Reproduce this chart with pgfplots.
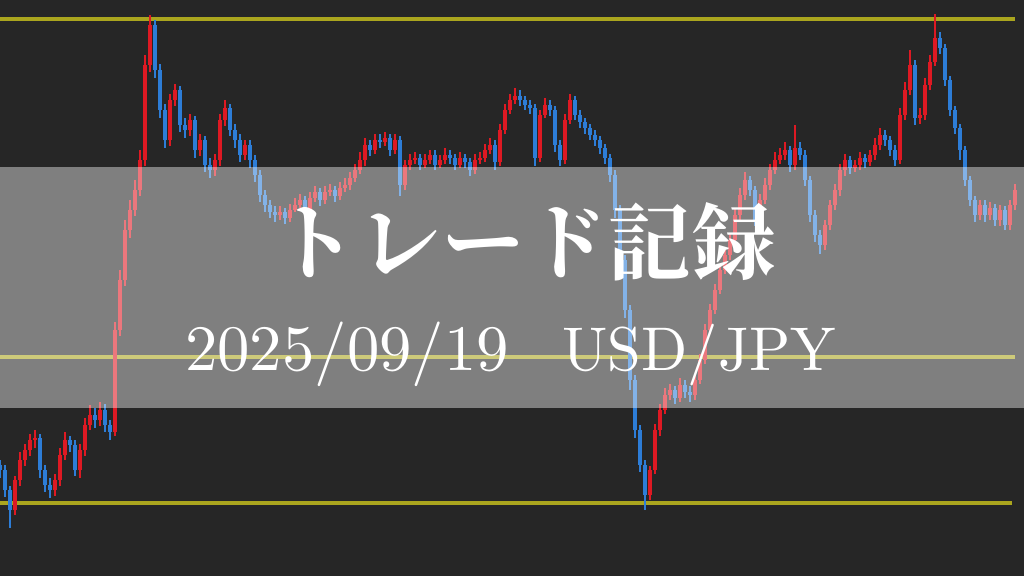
\documentclass[border=0pt]{standalone}
\usepackage{pgfplots}
\pgfplotsset{compat=1.18}
\usepackage{pgfplotstable}
\usepackage{fontspec}
\newfontfamily\cjk{Noto Serif CJK JP}
\newfontfamily\lmten{lmroman10-regular}[Extension=.otf]
\definecolor{bgc}{RGB}{38,38,38}
\definecolor{cred}{RGB}{222,25,35}
\definecolor{cblue}{RGB}{45,125,215}
\definecolor{lvl}{RGB}{170,165,30}

% candles in picture pixels (y grows downward): x open close high low
\pgfplotstableread{
x o c h l
0 465 470 460 478
5 470 490 465 497
10 490 510 486 528
15 510 480 476 515
20 480 460 452 486
25 460 450 444 466
30 450 440 434 456
35 440 438 430 448
40 438 470 434 478
45 470 485 465 492
50 485 490 478 498
55 490 480 474 496
60 480 455 448 486
65 455 440 432 460
70 440 445 436 452
75 445 470 440 476
80 470 450 444 478
85 450 425 418 456
90 425 415 405 430
95 415 420 408 428
100 420 410 402 426
105 410 425 404 432
110 425 432 420 440
115 432 330 322 436
120 330 280 270 336
125 280 230 220 286
130 230 210 200 238
135 210 190 180 216
140 190 160 150 196
145 160 65 55 166
150 65 25 15 72
155 25 70 20 78
160 70 110 64 118
165 110 140 104 148
170 140 100 94 146
175 100 90 84 106
180 90 125 86 132
185 125 130 118 138
190 130 120 114 136
195 120 150 116 158
200 150 140 134 156
205 140 165 136 172
210 165 170 158 178
215 170 160 154 176
220 160 120 114 166
225 120 108 100 126
230 108 130 104 136
235 130 140 124 148
240 140 155 134 162
245 155 145 140 160
250 145 160 140 168
255 160 175 155 182
260 175 195 170 202
265 195 205 190 212
270 205 212 200 218
275 212 215 206 222
280 215 212 206 220
285 212 218 208 224
290 218 210 204 222
295 210 205 198 212
300 205 200 194 208
305 200 210 196 216
310 210 198 192 214
315 198 192 186 202
320 192 200 188 206
325 200 192 186 204
330 192 190 184 196
335 190 196 186 202
340 196 188 182 200
345 188 185 178 192
350 185 178 172 190
355 178 170 164 182
360 170 160 152 174
365 160 145 138 166
370 145 150 140 156
375 150 140 134 154
380 140 142 134 148
385 142 138 132 146
390 138 150 134 156
395 150 140 134 154
400 140 185 136 196
405 185 165 160 190
410 165 160 154 170
415 160 158 152 164
420 158 165 154 170
425 165 160 154 168
430 160 155 150 164
435 155 165 150 170
440 165 160 155 168
445 160 155 148 164
450 155 158 150 164
455 158 165 154 170
460 165 158 152 168
465 158 162 154 168
470 162 170 158 176
475 170 160 154 174
480 160 158 152 164
485 158 150 144 162
490 150 145 138 154
495 145 162 140 170
500 162 130 124 166
505 130 110 104 134
510 110 100 94 114
515 100 96 88 104
520 96 100 90 106
525 100 105 96 110
530 105 108 100 114
535 108 158 104 166
540 158 115 110 162
545 115 105 98 118
550 105 110 100 116
555 110 145 106 152
560 145 160 140 166
565 160 120 114 164
570 120 100 94 124
575 100 115 96 120
580 115 122 110 128
585 122 128 118 134
590 128 135 124 140
595 135 140 130 146
600 140 148 136 154
605 148 158 144 164
610 158 175 154 182
615 175 210 170 218
620 210 260 205 268
625 260 310 255 318
630 310 380 305 390
635 380 430 375 438
640 430 465 425 472
645 465 495 460 510
650 495 470 466 500
655 470 430 424 474
660 430 410 404 436
665 410 395 388 414
670 395 390 384 400
675 390 398 386 404
680 398 385 378 402
685 385 392 380 398
690 392 395 386 402
695 395 380 374 400
700 380 360 354 384
705 360 330 324 364
710 330 310 304 334
715 310 290 284 314
720 290 270 264 294
725 270 255 248 274
730 255 240 234 260
735 240 215 208 244
740 215 195 188 220
745 195 180 172 200
750 180 190 176 196
755 190 220 186 226
760 220 200 194 224
765 200 185 178 204
770 185 170 164 190
775 170 160 152 174
780 160 155 148 164
785 155 150 142 160
790 150 165 146 172
795 165 148 125 170
800 148 155 142 160
805 155 180 150 186
810 180 215 176 222
815 215 235 210 242
820 235 245 230 254
825 245 225 220 250
830 225 205 200 230
835 205 190 184 210
840 190 170 164 196
845 170 160 154 176
850 160 168 156 174
855 168 165 160 172
860 165 158 152 170
865 158 162 154 168
870 162 155 150 166
875 155 145 138 160
880 145 135 128 150
885 135 140 130 146
890 140 150 136 156
895 150 160 145 166
900 160 115 108 164
905 115 90 82 120
910 90 65 50 95
915 65 118 60 125
920 118 115 108 124
925 115 85 78 120
930 85 62 55 90
935 62 38 14 66
940 38 48 32 54
945 48 80 44 86
950 80 110 76 116
955 110 128 106 134
960 128 150 124 160
965 150 180 146 186
970 180 200 176 206
975 200 215 196 222
980 215 205 200 220
985 205 215 200 222
990 215 208 202 220
995 208 220 204 226
1000 220 210 205 226
1005 210 225 206 230
1010 225 205 200 230
1015 205 190 184 210
}\candles

\begin{document}
\begin{tikzpicture}
\begin{axis}[
    width=1024bp, height=576bp, scale only axis,
    xmin=0, xmax=1024, ymin=0, ymax=576,
    y dir=reverse,
    axis line style={draw=none},
    xtick=\empty, ytick=\empty,
    axis background/.style={fill=bgc},
    candle/.style={draw=none, mark=none,
      error bars/.cd, y dir=both, y explicit, error mark=none},
    ]
% level lines
\addplot[lvl, line width=4.5bp] coordinates {(0,19) (1015,19)};
\addplot[lvl, line width=4.5bp] coordinates {(0,357) (1015,357)};
\addplot[lvl, line width=4.5bp] coordinates {(0,503) (1012,503)};

% rising candles (red): wicks, then bodies
\addplot[candle, error bar style={draw=cred, line width=1.4bp}]
  table[x=x, y expr={\thisrow{c}<\thisrow{o} ? (\thisrow{h}+\thisrow{l})/2 : nan},
        y error expr={(\thisrow{l}-\thisrow{h})/2}] {\candles};
\addplot[candle, error bar style={draw=cred, line width=3.8bp}]
  table[x=x, y expr={\thisrow{c}<\thisrow{o} ? (\thisrow{o}+\thisrow{c})/2 : nan},
        y error expr={abs(\thisrow{o}-\thisrow{c})/2}] {\candles};
% falling candles (blue)
\addplot[candle, error bar style={draw=cblue, line width=1.4bp}]
  table[x=x, y expr={\thisrow{c}>\thisrow{o} ? (\thisrow{h}+\thisrow{l})/2 : nan},
        y error expr={(\thisrow{l}-\thisrow{h})/2}] {\candles};
\addplot[candle, error bar style={draw=cblue, line width=3.8bp}]
  table[x=x, y expr={\thisrow{c}>\thisrow{o} ? (\thisrow{o}+\thisrow{c})/2 : nan},
        y error expr={abs(\thisrow{o}-\thisrow{c})/2}] {\candles};

% title band
\addplot[draw=none, fill=white, fill opacity=0.41]
  coordinates {(0,167) (1024,167) (1024,408) (0,408)} -- cycle;

\node[text=white, font=\cjk\bfseries\fontsize{84}{84}\selectfont]
  at (axis cs:525,242) {トレード記録};
\node[text=white, anchor=base west, inner sep=0pt, font=\lmten\fontsize{65}{65}\selectfont]
  at (axis cs:185,370) {2025/09/19};
\node[text=white, anchor=base east, inner sep=0pt, xscale=0.98, transform shape,
      font=\lmten\fontsize{62}{62}\selectfont]
  at (axis cs:836,370) {USD/JPY};
\end{axis}
\end{tikzpicture}
\end{document}
